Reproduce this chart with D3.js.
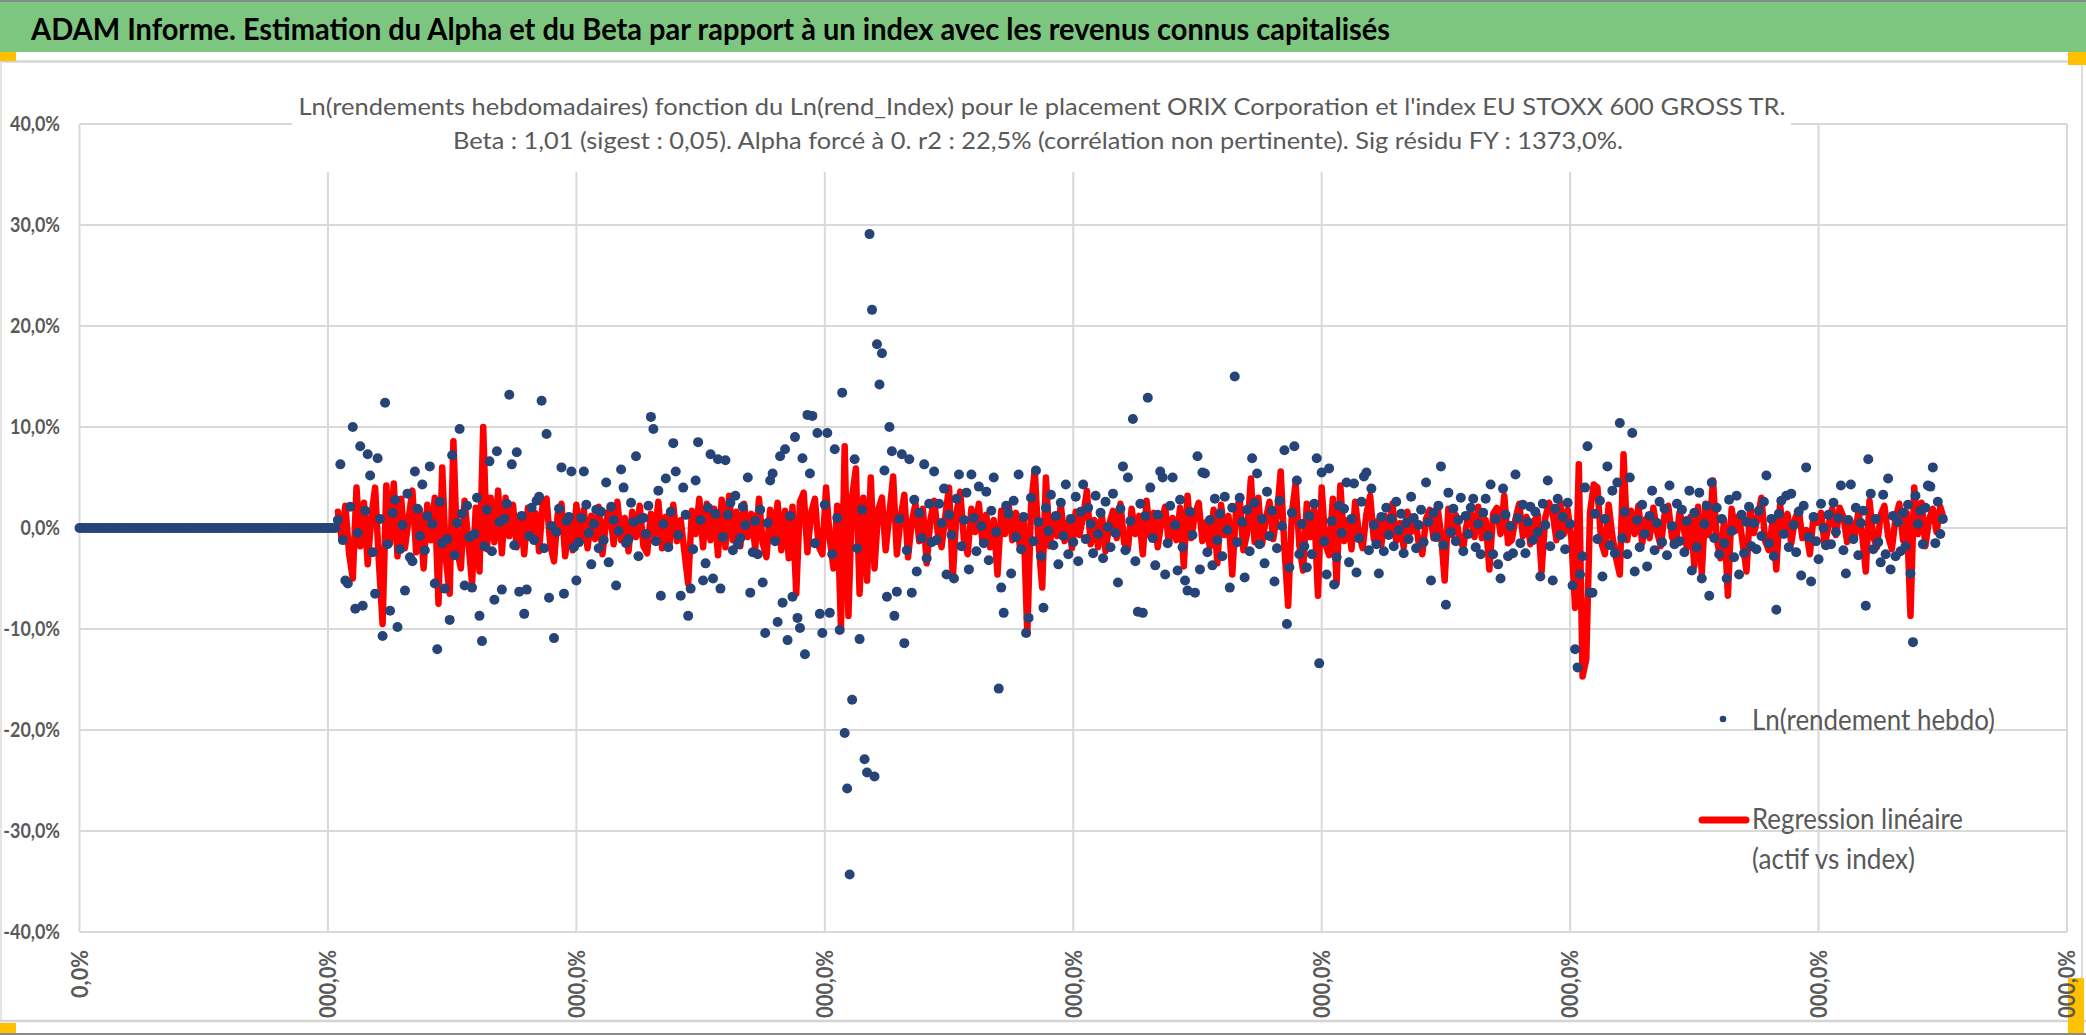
<!DOCTYPE html>
<html>
<head>
<meta charset="utf-8">
<script src="https://cdn.jsdelivr.net/npm/d3@7"></script>
<style>
  body { margin: 0; background: #fff; }
  svg { display: block; font-family: Lato, "Open Sans", sans-serif; }
</style>
</head>
<body>
<svg id="chart" width="2086" height="1035"></svg>
<script>
// ---- texts
var headerTitle = "ADAM Informe. Estimation du Alpha et du Beta par rapport à un index avec les revenus connus capitalisés";
var chartTitle = [
  "Ln(rendements hebdomadaires) fonction du Ln(rend_Index) pour le placement ORIX Corporation et l'index EU STOXX 600 GROSS TR.",
  "Beta : 1,01 (sigest : 0,05). Alpha forcé à 0. r2 : 22,5% (corrélation non pertinente). Sig résidu FY : 1373,0%."
];
var legendLabels = ["Ln(rendement hebdo)", "Regression linéaire", "(actif vs index)"];

// ---- axes (x labels as they show, cut by the bottom of the chart area)
var xTicks = [0, 200, 400, 600, 800, 1000, 1200, 1400, 1600];
var xTickLabels = ["0,0%", "000,0%", "000,0%", "000,0%", "000,0%", "000,0%", "000,0%", "000,0%", "000,0%"];
var yTicks = [-40, -30, -20, -10, 0, 10, 20, 30, 40];

// ---- Ln(rendement hebdo), in %, one value every 2 rows starting at row 0
var lnStep = 2;
var lnRendement = [
  0,0,0,0,0,0,0,0,0,0,0,0,0,0,0,0,0,0,0,0,0,0,0,0,0,0,
  0,0,0,0,0,0,0,0,0,0,0,0,0,0,0,0,0,0,0,0,0,0,0,0,0,0,
  0,0,0,0,0,0,0,0,0,0,0,0,0,0,0,0,0,0,0,0,0,0,0,0,0,0,
  0,0,0,0,0,0,0,0,0,0,0,0,0,0,0,0,0,0,0,0,0,0,0,0,0,0,
  0.8, 6.3, -1.2, -5.2, -5.5, 2.1, 10.0, -8.0, -0.5, 8.1, -7.7, 1.7, 7.3, 5.2, -2.4, -6.5, 6.9, 0.9, -10.7, 12.4, -1.6, -8.2, 1.5, 2.8, -9.8, -2.1, 0.3, -6.2, 3.4, -2.9,
  -3.3, 5.6, 1.9, -0.8, 4.3, -2.2, 1.2, 6.1, 0.4, -5.5, -12.0, 2.6, -1.5, -6.0, -1.1, -9.1, 7.2, -2.7, 0.5, 9.8, 1.4, -5.7, 2.2, -0.9, -5.9, -0.6, 3.0, -8.7, -11.2, -1.8,
  1.8, 6.6, -2.3, -7.1, 7.6, 0.6, -6.1, 0.9, 2.4, 13.2, 6.3, -1.7, 7.5, -6.3, 1.2, -8.5, -6.1, -0.8, 2.0, -1.2, 2.7, 3.1, 12.6, -2.0, 9.3, -6.9, 0.2, -10.9, -0.4, 1.9,
  6.0, -6.5, 0.7, 1.1, 5.6, -1.9, -5.2, -1.4, 1.0, 5.6, 2.3, -0.5, -3.6, 0.4, 1.8, -2.0, 1.6, -1.2, 4.5, -3.4, 2.1, 0.8, -5.7, -0.3, 5.8, 4.0, -1.5, -1.1, 2.5, 0.6,
  7.1, -2.8, 0.9, 1.0, -0.6, 2.2, 11.0, 9.8, -1.3, 3.7, -6.7, 0.4, 4.9, -1.9, 1.6, 8.4, 5.6, -0.7, -6.7, 4.0, 1.3, -8.7, -6.0, -2.1, 4.7, 8.5, 0.8, -5.2, -3.5, 2.0,
  7.3, -5.0, 1.4, 6.8, -6.0, -0.9, 6.7, 1.3, 2.5, -2.2, 3.2, -1.6, -1.0, 2.1, 0.3, 5.0, -6.4, -2.4, 0.7, -2.6, 1.8, -5.4, -10.4, 0.5, 4.7, 5.4, -1.3, -9.3, 7.1, -7.4,
  7.8, -11.1, 1.2, -6.8, 9.0, -8.9, -9.9, 6.9, -12.5, 11.2, 5.4, 11.1, -1.5, 9.4, -8.5, -10.4, 2.3, 9.4, -8.4, -2.6, 7.8, 1.0, -10.1, 13.4, -20.3, -25.8, -34.3, -17.0, 6.8, -2.0,
  -11.0, 1.8, -22.9, -24.2, 29.1, 21.6, -24.6, 18.2, 14.2, 17.3, 5.7, -6.8, 10.0, 7.6, -8.7, -6.3, 0.9, 7.3, -11.4, -2.2, 6.8, -6.4, 2.8, -4.3, 1.5, -1.0, 6.3, -3.0, 2.4, -1.4,
  5.6, -1.2, 2.4, 0.5, 3.9, -4.6, 1.3, -0.7, -5.0, 2.9, 5.3, -1.8, 0.8, 3.5, -4.1, 5.3, 1.0, -2.3, 4.1, 0.2, -1.5, 3.6, -3.2, 1.7, 5.0, -0.4, -15.9, -5.9, -8.4, 2.2,
  1.4, -4.5, 2.7, -0.9, 5.3, -2.1, 1.1, -10.4, -8.9, 3.0, -1.3, 5.7, 0.6, -2.8, -7.9, 2.0, -0.3, 3.3, -1.7, 1.2, -3.6, 2.5, -0.8, 4.3, -2.6, 0.9, -1.4, 3.1, -3.3, 1.6,
  4.3, -1.1, 2.0, 0.4, -2.5, 3.2, -0.6, 1.5, -3.0, 2.6, 0.1, -1.9, 3.4, -0.5, -5.4, 1.9, 6.1, -2.2, 5.0, 0.7, 10.8, -3.3, -8.3, 2.4, -8.4, 1.2, 12.9, 4.0, -1.0, -3.7,
  1.3, 5.6, 5.0, -4.6, -1.5, 2.2, 5.0, 0.3, -4.2, 2.8, -1.9, -5.2, -6.2, 1.6, -0.7, -6.4, 7.1, -4.1, 5.5, 5.4, -2.4, 0.8, -3.7, 2.9, -1.2, 1.4, -2.8, 3.1, -0.2, -5.9,
  2.0, 15.0, -1.4, 3.0, 0.6, -4.9, 1.8, -2.3, 6.9, 2.5, 5.4, -1.6, 0.9, -3.5, 3.6, -0.8, 1.7, -5.3, -2.0, 2.7, 0.2, 7.7, -9.5, -3.9, 1.5, 8.1, 4.7, -2.6, 0.4, -1.8,
  -3.9, 1.2, -2.6, 2.4, 6.9, -13.4, 5.5, -1.3, -4.6, 5.9, 0.7, -5.6, -2.9, 2.2, -0.5, 1.9, 4.5, -3.4, 0.9, 4.4, -4.4, -1.0, 2.6, 5.1, 5.5, -2.2, 3.9, 0.3, -1.6, -4.5,
  1.1, -2.3, 2.0, -0.7, 0.9, -1.8, 2.6, -0.2, 1.4, -2.5, 0.5, -1.1, 3.1, 1.0, -2.0, 0.3, 1.8, -1.4, 4.5, 0.6, -5.2, 1.5, -0.9, 2.2, 6.1, -1.7, -7.6, 3.5, -0.4, 1.9,
  -1.3, 0.8, 3.0, -2.3, 1.2, -0.6, 2.0, 2.9, -1.9, 0.4, -2.6, 1.5, 2.9, -0.8, 4.3, -2.6, 0.9, -3.6, -5.0, 3.9, 1.3, -2.8, 0.2, -2.5, 5.3, 1.0, -1.5, 2.3, -2.5, 0.6,
  2.1, -1.2, 1.6, -0.4, -4.8, 2.4, 0.3, 4.7, -1.8, -5.2, 1.9, 2.9, -0.7, 1.1, -2.1, 2.5, 0.4, -5.7, -12.0, -13.8, -4.6, -2.8, 4.0, 8.1, -6.4, -6.4, 1.4, -1.1, 2.7, -4.8,
  0.9, 6.1, -1.7, 3.7, -2.5, 4.5, 10.4, -1.0, 1.6, -2.6, 5.0, 9.4, -4.3, 0.8, -1.9, 2.3, -0.6, -3.8, 1.2, 3.7, -2.2, 0.5, 2.6, -1.4, 1.9, -2.7, 4.2, 0.2, -1.6, 2.4,
  -1.3, 1.8, -2.4, 0.7, 3.7, -4.2, 1.5, -1.9, 3.5, -5.0, 0.4, 2.2, -6.7, 4.5, -1.0, 2.0, -2.6, 0.9, -1.5, -5.0, 2.8, -0.3, -2.9, 3.2, -4.6, 1.3, -2.5, 0.6, 2.1, -1.8,
  0.5, -2.1, 1.7, -0.8, 2.6, 5.2, -1.5, 0.9, -2.8, -8.1, 1.4, 2.7, -0.6, 3.2, -1.9, 3.4, 0.3, -2.4, 1.6, -4.7, 2.2, 6.0, -0.9, -5.3, 1.1, -1.3, -3.1, 2.4, 0.0, -1.7,
  1.3, -1.6, 2.5, -0.4, 1.0, 4.2, -2.2, -4.5, 0.8, 4.3, -1.1, 2.0, -2.7, 0.5, 1.7, -7.7, 6.8, 3.4, -2.1, 0.9, -1.4, -3.4, 3.3, -2.6, 4.9, -4.1, 1.2, -2.8, 0.6, -2.3,
  1.5, -1.8, 2.3, -4.5, -11.3, 3.2, 0.4, 1.7, -1.6, 2.0, 4.2, 4.1, 6.0, -1.5, 2.6, -0.6, 0.9
];

// ---- Regression linéaire (actif vs index), in %, one value every 3 rows from row 208
var regStart = 208, regStep = 3;
var regression = [
  1.6, -1.0, 2.2, -2.5, -5.0, 4.0, -1.8, 2.5, -3.6, 1.2, 4.0, -3.3, -9.5, 4.2, -1.5, 4.4, -2.8, 2.9, -2.0, 1.0,
  3.7, -2.4, 1.8, -4.0, 2.3, -1.2, 3.0, -7.5, 6.0, -3.1, -6.5, 8.6, -2.2, -4.0, 2.7, -1.3, -5.5, 2.0, -4.3, 10.0,
  -2.1, 3.0, -1.4, 3.7, -2.5, 3.0, -0.8, 2.3, -1.9, 1.1, -2.6, 2.0, -1.0, 1.5, -2.3, 2.6, 2.9, -1.7, -3.3, 1.4,
  2.4, -2.8, 0.9, -2.2, 2.3, -1.5, 1.8, -2.0, 1.2, -1.1, 2.1, -2.6, 0.7, 1.9, -1.6, 2.6, -1.2, 1.0, -2.3, 1.6,
  -0.9, 2.2, -1.8, -2.5, 1.4, -0.7, 2.6, -2.0, 1.1, -1.6, 2.3, -1.3, 0.8, -2.4, -5.5, 1.7, -0.6, 2.9, -1.9, 2.4,
  -1.2, 1.9, -2.7, 2.8, -1.9, 3.2, -1.2, 1.6, -1.8, 2.4, -0.9, 1.4, -2.1, 2.9, -1.5, -2.9, 1.8, -1.0, 2.5, -2.2,
  1.7, -3.0, 2.1, -6.5, 2.6, 3.5, -2.4, 1.5, 2.9, -1.8, -2.6, 4.0, -1.1, -4.0, 2.2, -9.9, 8.1, -8.7, 3.1, 5.9,
  -6.5, 3.0, -5.2, 5.0, -4.0, 1.8, 3.0, -2.2, 1.4, 5.1, -2.6, 1.0, 3.3, -2.9, 0.6, 2.4, -1.3, 1.9, -3.5, 0.8,
  2.7, -0.5, -1.9, 1.2, 4.0, -5.0, 1.5, 3.6, -1.2, -2.6, 1.9, -0.4, 2.4, -1.5, 1.3, -1.9, 0.8, -4.6, 1.7, -0.6,
  2.3, -1.2, 1.5, -1.8, 0.9, -10.5, 2.2, 5.8, -1.4, -5.9, 5.0, -1.8, 1.1, -0.8, 2.3, -1.3, 0.6, -2.0, 1.6, -0.7,
  1.2, 3.7, -1.6, 0.8, -1.9, 1.3, -2.3, 0.4, 1.7, -1.0, 2.4, -1.5, -2.1, 1.9, -0.6, 1.2, -2.6, 2.7, -0.8, 1.5,
  -1.9, 0.7, 2.1, -1.6, 1.0, -1.2, 2.0, -3.8, 3.2, -1.0, 1.4, 2.5, -1.3, 0.6, -1.9, 1.8, -3.5, 2.3, -0.7, 1.2,
  -4.6, 1.6, 2.9, -2.2, -0.5, 4.9, -1.4, 3.0, -1.6, 0.9, 2.6, -1.1, 1.3, 5.6, -2.0, -7.7, 1.5, 4.4, -1.7, -4.2,
  2.4, -0.9, 1.8, -6.7, 4.0, -1.6, -2.7, 2.9, -5.5, 4.2, -1.3, 0.8, -2.1, 2.6, -0.6, -2.0, 1.4, 3.2, -1.1, 0.7,
  -1.7, 1.2, -0.8, 2.4, -1.3, 0.5, -1.9, 1.6, -0.4, 1.1, -1.4, -2.6, 0.9, 1.8, -1.0, 2.3, -0.5, -5.2, 1.9, -0.7,
  1.3, -1.2, -1.9, 0.6, 1.5, -0.9, 2.1, -1.0, 0.8, -4.1, 1.4, 2.0, -0.6, 3.2, -1.5, -1.2, 0.9, 2.4, -0.8, 1.1,
  -1.6, 0.7, 1.3, -4.3, 1.0, 2.5, 1.4, -1.2, 2.5, -0.6, 1.8, -1.0, -7.9, 6.3, -14.7, -13.0, 1.5, 4.3, 4.0, -1.4,
  -2.6, 2.3, -0.8, -3.0, -4.6, 7.3, -1.2, 1.7, -0.6, 2.2, -1.5, 0.9, -1.0, 2.0, -0.4, -1.8, 1.3, 2.2, -0.9, -1.7,
  1.5, 0.4, -2.0, 1.1, -3.8, 2.1, -4.5, 2.4, -0.7, 4.7, -1.1, -3.0, 0.8, -6.7, 1.9, -0.3, 1.2, -1.6, -4.3, 2.2,
  -0.5, 1.0, 3.0, -1.3, -2.2, 0.7, -4.1, 2.3, -0.6, 1.4, -1.5, 0.9, 1.8, -1.0, -0.2, -2.6, 1.2, 0.5, 1.5, -1.8,
  0.3, 1.9, -0.7, 2.0, 1.1, -1.4, 0.6, -1.1, 1.6, -0.5, -4.3, 2.7, -0.9, -1.9, 1.3, 2.2, -0.8, -2.1, 1.0, 2.4,
  -1.2, 1.5, -8.7, 4.0, -0.6, 2.5, -1.8, 0.9, 1.9, -0.4, 2.1, 0.8
];

// ---- colours
var dotColor = "#264478", regColor = "#ff0000", gridColor = "#d9d9d9", textGray = "#595959";

function drawChart() {
  var svg = d3.select("#chart");
  var fr = d3.formatLocale({decimal: ",", thousands: "\u00a0", grouping: [3], currency: ["", "€"], minus: "-"});
  var pct = fr.format(".1%");

  var x = d3.scaleLinear().domain([0, 1600]).range([79.5, 2067]);
  var y = d3.scaleLinear().domain([-40, 40]).range([932, 124]);

  // frame of the sheet
  svg.append("rect").attr("x", 0).attr("y", 0).attr("width", 2086).attr("height", 52).attr("fill", "#7dc67f");
  svg.append("line").attr("x1", 0).attr("x2", 2086).attr("y1", 1).attr("y2", 1).attr("stroke", "#8a8a8a").attr("stroke-width", 2);
  svg.append("line").attr("x1", 0).attr("x2", 2086).attr("y1", 61.5).attr("y2", 61.5).attr("stroke", "#d4d4d4").attr("stroke-width", 2.5);
  svg.append("line").attr("x1", 0).attr("x2", 2086).attr("y1", 1021).attr("y2", 1021).attr("stroke", "#d4d4d4").attr("stroke-width", 2.5);
  svg.append("line").attr("x1", 0).attr("x2", 2086).attr("y1", 1034).attr("y2", 1034).attr("stroke", "#8a8a8a").attr("stroke-width", 2);
  svg.append("line").attr("x1", 2082).attr("x2", 2082).attr("y1", 63).attr("y2", 1020).attr("stroke", "#dcdcdc").attr("stroke-width", 2);
  svg.append("line").attr("x1", 1).attr("x2", 1).attr("y1", 63).attr("y2", 1020).attr("stroke", "#e4e4e4").attr("stroke-width", 2);
  var handles = [[0, 52, 16, 9], [2068, 52, 18, 13], [0, 1023, 16, 10], [2068, 978, 16, 55]];
  svg.selectAll("rect.handle").data(handles).enter().append("rect")
    .attr("class", "handle")
    .attr("x", function(d){ return d[0]; }).attr("y", function(d){ return d[1]; })
    .attr("width", function(d){ return d[2]; }).attr("height", function(d){ return d[3]; })
    .attr("fill", "#ffc000");

  svg.append("text")
    .attr("x", 31).attr("y", 40)
    .attr("font-size", 31).attr("font-weight", "bold").attr("fill", "#000")
    .attr("textLength", 1359).attr("lengthAdjust", "spacingAndGlyphs")
    .text(headerTitle);

  // gridlines
  svg.append("g").selectAll("line").data(yTicks).enter().append("line")
    .attr("x1", x(0)).attr("x2", x(1600))
    .attr("y1", function(d){ return y(d); }).attr("y2", function(d){ return y(d); })
    .attr("stroke", gridColor).attr("stroke-width", 2);
  svg.append("g").selectAll("line").data(xTicks).enter().append("line")
    .attr("x1", function(d){ return x(d); }).attr("x2", function(d){ return x(d); })
    .attr("y1", y(40)).attr("y2", y(-40))
    .attr("stroke", gridColor).attr("stroke-width", 2);

  // title box hides the gridlines behind it
  svg.append("rect").attr("x", 292).attr("y", 63).attr("width", 1499).attr("height", 109).attr("fill", "#fff");
  svg.selectAll("text.ctitle").data(chartTitle).enter().append("text")
    .attr("class", "ctitle")
    .attr("x", function(d, i){ return i == 0 ? 1042 : 1038; })
    .attr("y", function(d, i){ return i == 0 ? 115 : 149; })
    .attr("text-anchor", "middle")
    .attr("font-size", 24).attr("fill", textGray)
    .attr("textLength", function(d, i){ return i == 0 ? 1487 : 1170; })
    .attr("lengthAdjust", "spacingAndGlyphs")
    .text(function(d){ return d; });

  // y tick labels
  var yLab = svg.append("g").selectAll("text").data(yTicks).enter().append("text")
    .attr("x", 60).attr("y", function(d){ return y(d); }).attr("dy", "0.35em")
    .attr("text-anchor", "end")
    .attr("font-size", 21).attr("font-weight", "bold").attr("fill", textGray)
    .text(function(d){ return pct(d / 100); });
  var ky = 50 / yLab.filter(function(d){ return d == 40; }).node().getComputedTextLength();
  yLab.each(function(){
    d3.select(this).attr("textLength", this.getComputedTextLength() * ky).attr("lengthAdjust", "spacingAndGlyphs");
  });

  // x tick labels, rotated
  var xLab = svg.append("g")
    .selectAll("text").data(xTicks).enter().append("text")
    .attr("transform", function(d){ return "translate(" + x(d) + ",950) rotate(-90)"; })
    .attr("dy", "0.36em")
    .attr("text-anchor", "end")
    .attr("font-size", 23).attr("font-weight", "bold").attr("fill", textGray)
    .text(function(d, i){ return xTickLabels[i]; });
  var kx = 48 / xLab.filter(function(d){ return d == 0; }).node().getComputedTextLength();
  xLab.each(function(){
    d3.select(this).attr("textLength", Math.min(68, this.getComputedTextLength() * kx)).attr("lengthAdjust", "spacingAndGlyphs");
  });

  // regression line
  var line = d3.line()
    .x(function(d, i){ return x(regStart + i * regStep); })
    .y(function(d){ return y(d); });
  svg.append("path").datum(regression)
    .attr("d", line)
    .attr("fill", "none").attr("stroke", regColor)
    .attr("stroke-width", 6.5).attr("stroke-linejoin", "round").attr("stroke-linecap", "round");

  // weekly log returns
  svg.append("g").selectAll("circle").data(lnRendement).enter().append("circle")
    .attr("cx", function(d, i){ return x(i * lnStep); })
    .attr("cy", function(d){ return y(d); })
    .attr("r", 5)
    .attr("fill", dotColor);

  // legend
  var lg = svg.append("g");
  lg.append("circle").attr("cx", 1723).attr("cy", 719).attr("r", 3.3).attr("fill", dotColor);
  lg.append("line").attr("x1", 1702).attr("x2", 1746).attr("y1", 820).attr("y2", 820)
    .attr("stroke", regColor).attr("stroke-width", 7).attr("stroke-linecap", "round");
  var legendPos = [[730, 243], [829, 211], [869, 163]];
  lg.selectAll("text").data(legendLabels).enter().append("text")
    .attr("x", 1752).attr("y", function(d, i){ return legendPos[i][0]; })
    .attr("font-size", 28).attr("fill", textGray)
    .attr("textLength", function(d, i){ return legendPos[i][1]; })
    .attr("lengthAdjust", "spacingAndGlyphs")
    .text(function(d){ return d; });
}

drawChart();
</script>
</body>
</html>
